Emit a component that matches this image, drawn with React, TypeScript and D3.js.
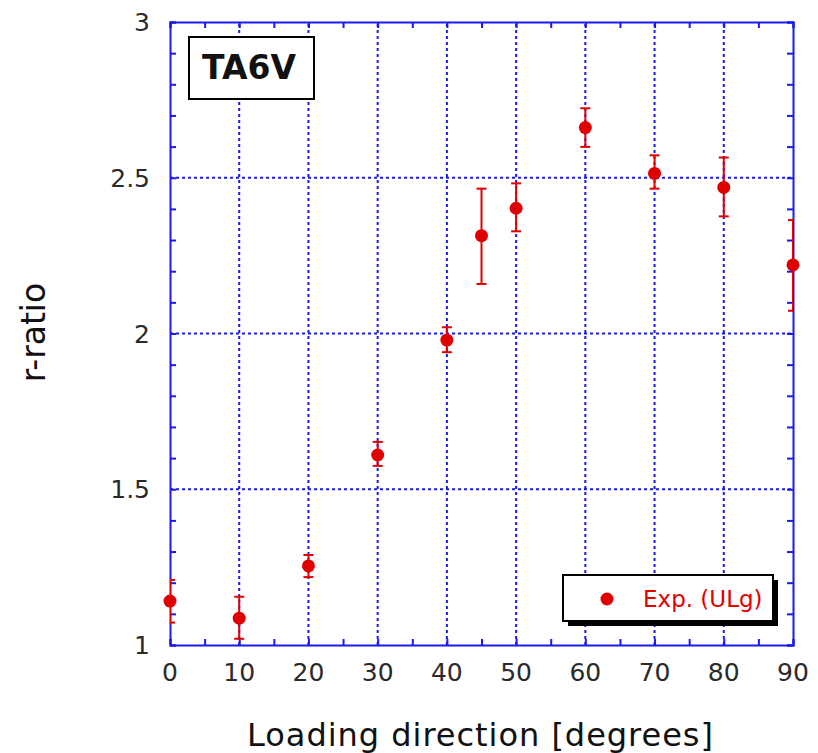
import React, { useEffect, useRef } from 'react';
import * as d3 from 'd3';

// measured r-ratio values for TA6V, by loading direction
const angles = [0, 10, 20, 30, 40, 45, 50, 60, 70, 80, 90];
const rRatio = [1.141, 1.086, 1.254, 1.61, 1.979, 2.314, 2.402, 2.661, 2.514, 2.469, 2.22];
const errLow = [1.072, 1.02, 1.218, 1.575, 1.94, 2.159, 2.328, 2.599, 2.465, 2.376, 2.073];
const errHigh = [1.209, 1.155, 1.289, 1.652, 2.02, 2.465, 2.482, 2.723, 2.572, 2.565, 2.364];

const xTicks = [0, 10, 20, 30, 40, 50, 60, 70, 80, 90];
const yTicks = [1, 1.5, 2, 2.5, 3];
const yTickLabels = ['1', '1.5', '2', '2.5', '3'];

const W = 818, H = 753;
const FONT = '"DejaVu Sans", sans-serif';
const BLUE = '#1a1aee';
const RED = '#e00000';

const App = () => {
  const ref = useRef<SVGSVGElement>(null);

  useEffect(() => {
    if (!ref.current) return;
    const svg = d3.select(ref.current);
    svg.selectAll('*').remove();

    const margin = { top: 22, right: 25, bottom: 108, left: 170 };
    const width = W - margin.left - margin.right;
    const height = H - margin.top - margin.bottom;

    const x = d3.scaleLinear().domain([0, 90]).range([margin.left, margin.left + width]);
    const y = d3.scaleLinear().domain([1, 3]).range([margin.top + height, margin.top]);

    svg.append('defs').append('clipPath').attr('id', 'plotclip')
      .append('rect')
      .attr('x', x(0)).attr('y', y(3))
      .attr('width', width).attr('height', height);

    // dotted grid
    const grid = svg.append('g')
      .attr('stroke', BLUE).attr('stroke-width', 2).attr('stroke-dasharray', '3,3');
    grid.selectAll('line.gx')
      .data(xTicks.filter(d => d > 0 && d < 90))
      .join('line')
      .attr('x1', d => x(d)).attr('x2', d => x(d))
      .attr('y1', y(1)).attr('y2', y(3));
    grid.selectAll('line.gy')
      .data(yTicks.filter(d => d > 1 && d < 3))
      .join('line')
      .attr('class', 'gy')
      .attr('x1', x(0)).attr('x2', x(90))
      .attr('y1', d => y(d)).attr('y2', d => y(d));

    // axes on all four sides, ticks pointing inward
    const xMinor = d3.range(0, 91, 5);
    const yMinor = d3.range(10, 31).map(d => d / 10);
    svg.append('g').attr('transform', `translate(0,${y(1)})`)
      .call(d3.axisTop(x).tickValues(xMinor).tickSize(6).tickFormat(() => ''));
    svg.append('g').attr('transform', `translate(0,${y(3)})`)
      .call(d3.axisBottom(x).tickValues(xMinor).tickSize(6).tickFormat(() => ''));
    svg.append('g').attr('transform', `translate(${x(0)},0)`)
      .call(d3.axisRight(y).tickValues(yMinor).tickSize(6).tickFormat(() => ''));
    svg.append('g').attr('transform', `translate(${x(90)},0)`)
      .call(d3.axisLeft(y).tickValues(yMinor).tickSize(6).tickFormat(() => ''));
    svg.selectAll('.domain, .tick line')
      .attr('stroke', BLUE).attr('stroke-width', 2);

    // tick labels
    svg.append('g').selectAll('text')
      .data(xTicks)
      .join('text')
      .attr('x', d => x(d)).attr('y', y(1) + 36)
      .attr('text-anchor', 'middle')
      .attr('font-family', FONT).attr('font-size', 25).attr('fill', '#2a2a2a')
      .text(d => d);
    svg.append('g').selectAll('text')
      .data(yTicks)
      .join('text')
      .attr('x', x(0) - 20).attr('y', d => y(d) + 9)
      .attr('text-anchor', 'end')
      .attr('font-family', FONT).attr('font-size', 25).attr('fill', '#2a2a2a')
      .text((d, i) => yTickLabels[i]);

    // axis titles
    svg.append('text')
      .attr('x', 480).attr('y', 746)
      .attr('text-anchor', 'middle')
      .attr('font-family', FONT).attr('font-size', 32).attr('fill', '#111')
      .attr('textLength', 466).attr('lengthAdjust', 'spacing')
      .text('Loading direction [degrees]');
    svg.append('text')
      .attr('transform', `translate(45,${(282 + 383) / 2}) rotate(-90)`)
      .attr('text-anchor', 'middle')
      .attr('font-family', FONT).attr('font-size', 33)
      .attr('fill', '#111')
      .text('r-ratio');

    // error bars (clipped to the frame)
    const data = angles.map((a, i) => ({ a, v: rRatio[i], lo: errLow[i], hi: errHigh[i] }));
    const eb = svg.append('g').attr('clip-path', 'url(#plotclip)')
      .attr('stroke', RED).attr('stroke-width', 2);
    eb.selectAll('line.v').data(data).join('line').attr('class', 'v')
      .attr('x1', d => x(d.a)).attr('x2', d => x(d.a))
      .attr('y1', d => y(d.lo)).attr('y2', d => y(d.hi));
    eb.selectAll('line.t').data(data).join('line').attr('class', 't')
      .attr('x1', d => x(d.a) - 5).attr('x2', d => x(d.a) + 5)
      .attr('y1', d => y(d.hi)).attr('y2', d => y(d.hi));
    eb.selectAll('line.b').data(data).join('line').attr('class', 'b')
      .attr('x1', d => x(d.a) - 5).attr('x2', d => x(d.a) + 5)
      .attr('y1', d => y(d.lo)).attr('y2', d => y(d.lo));

    svg.append('g').selectAll('circle').data(data).join('circle')
      .attr('cx', d => x(d.a)).attr('cy', d => y(d.v))
      .attr('r', 6.5).attr('fill', RED);

    // TA6V label box
    svg.append('rect')
      .attr('x', 189).attr('y', 37).attr('width', 125).attr('height', 62)
      .attr('fill', '#fff').attr('stroke', '#000').attr('stroke-width', 2);
    svg.append('text')
      .attr('x', 249).attr('y', 79)
      .attr('text-anchor', 'middle')
      .attr('font-family', FONT).attr('font-size', 33).attr('font-weight', 'bold')
      .attr('fill', '#111')
      .text('TA6V');

    // legend with drop shadow
    svg.append('rect')
      .attr('x', 568).attr('y', 580).attr('width', 210).attr('height', 46)
      .attr('fill', '#000');
    svg.append('rect')
      .attr('x', 563).attr('y', 575).attr('width', 210).attr('height', 46)
      .attr('fill', '#fff').attr('stroke', '#000').attr('stroke-width', 2);
    svg.append('circle')
      .attr('cx', 607).attr('cy', 599).attr('r', 6.5).attr('fill', RED);
    svg.append('text')
      .attr('x', 643).attr('y', 607)
      .attr('font-family', FONT).attr('font-size', 23).attr('fill', RED)
      .text('Exp. (ULg)');
  }, []);

  return (
    <svg ref={ref} width={W} height={H}
      style={{ position: 'absolute', left: 0, top: 0, background: '#fff' }} />
  );
};

export default App;
